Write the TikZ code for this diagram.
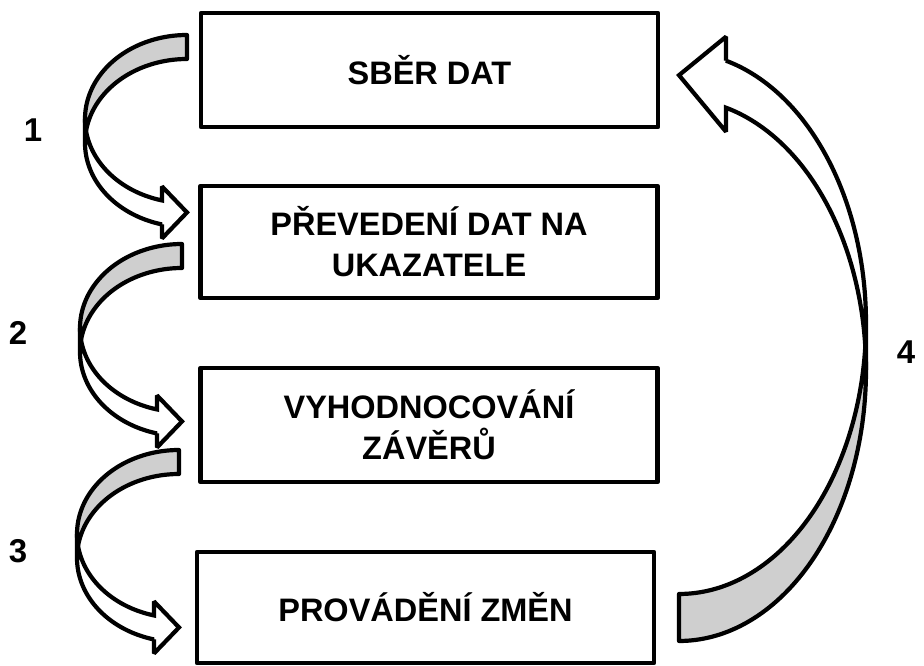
\documentclass[tikz,border=0pt]{standalone}
\usepackage{fontspec}
\setmainfont{Liberation Sans}
\definecolor{bandgray}{RGB}{207,207,207}

% Curved block arrow in local coordinates: the band starts at (0,0) going left,
% bends round and ends in an arrow head pointing back to x = 0.
% #1 width, #2 vertical radius, #3 band thickness, #4 head length,
% #5 head overhang, #6 tip offset
\newcommand\curvedband[6]{%
  \pgfmathsetmacro\cbw{#1}%
  \pgfmathsetmacro\cbh{#2}%
  \pgfmathsetmacro\cbt{#3}%
  \pgfmathsetmacro\cba{#4}%
  \pgfmathsetmacro\cbd{#5}%
  \pgfmathsetmacro\cbang{acos(-\cba/\cbw)}%
  \pgfmathsetmacro\cbyin{\cbh+\cbh*sin(\cbang)}%
  \pgfmathsetmacro\cbyout{\cbyin+\cbt}%
  \pgfmathsetmacro\cbtip{(\cbyin+\cbyout)/2+#6}%
  \pgfmathsetmacro\cbcross{asin(\cbt/(2*\cbh))}%
  \pgfmathsetmacro\cbangA{180-\cbcross}%
  \pgfmathsetmacro\cbangB{180+\cbcross}%
  \path[bandfront] (-\cbw,\cbh)
    -- plot[domain=180:\cbang, samples=70, variable=\t]
         ({\cbw*cos(\t)},{\cbh+\cbh*sin(\t)})
    -- (-\cba,\cbyin-\cbd) -- (0,\cbtip) -- (-\cba,\cbyout+\cbd) -- (-\cba,\cbyout)
    -- plot[domain=\cbang:180, samples=70, variable=\t]
         ({\cbw*cos(\t)},{\cbh+\cbt+\cbh*sin(\t)})
    -- cycle;
  \path[bandback] (0,0)
    -- plot[domain=270:\cbangA, samples=70, variable=\t]
         ({\cbw*cos(\t)},{\cbh+\cbh*sin(\t)})
    -- plot[domain=\cbangB:270, samples=70, variable=\t]
         ({\cbw*cos(\t)},{\cbh+\cbt+\cbh*sin(\t)})
    -- cycle;
}

\begin{document}
\begin{tikzpicture}[x=1pt,y=-1pt,
  box/.style={draw, line width=4.5pt, line join=round, minimum width=457pt,
    minimum height=114pt, inner sep=0pt, outer sep=0pt, align=center,
    font=\bfseries\fontsize{32.5}{41}\selectfont},
  num/.style={inner sep=0pt, font=\bfseries\fontsize{33}{38}\selectfont},
  bandfront/.style={draw, fill=white, line width=4.2pt, line join=miter,
    miter limit=2},
  bandback/.style={draw, fill=bandgray, line width=4.2pt, line join=round},
]
\useasboundingbox (0,0) rectangle (924,666);

% process steps
\node[box] (b1) at (429.5,70) {SBĚR DAT};
\node[box, minimum height=112pt] (b2) at (429,242) {PŘEVEDENÍ DAT NA\\UKAZATELE};
\node[box] (b3) at (429,425) {VYHODNOCOVÁNÍ\\ZÁVĚRŮ};
\node[box, minimum height=111pt] (b4) at (425.5,607.5) {PROVÁDĚNÍ ZMĚN};

% step numbers
\node[num] (n1) at (33,130) {1};
\node[num] (n2) at (18,333) {2};
\node[num] (n3) at (18,551) {3};
\node[num] (n4) at (906,352) {4};

% curved arrows between the steps
\begin{scope}[shift={(187,35)}]
  \curvedband{102}{84}{24}{25}{14}{0}
\end{scope}
\begin{scope}[shift={(182,244)}]
  \curvedband{102}{84}{24}{25}{14}{0}
\end{scope}
\begin{scope}[shift={(179,450)}]
  \curvedband{102}{84}{24}{25}{14}{0}
\end{scope}

% return arrow from the last step back to the first
\begin{scope}[shift={(679,641)}, rotate=180]
  \curvedband{187}{271}{47}{47}{24}{9}
\end{scope}
\end{tikzpicture}
\end{document}
